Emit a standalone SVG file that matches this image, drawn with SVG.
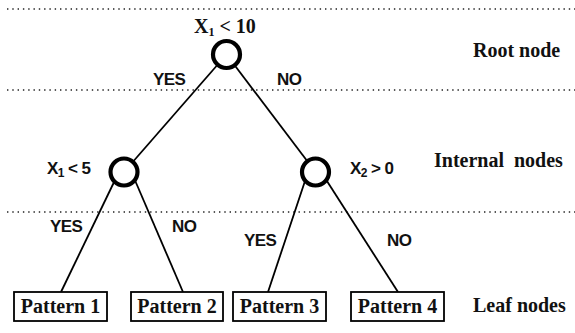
<svg xmlns="http://www.w3.org/2000/svg" width="575" height="333" viewBox="0 0 575 333">
<style>
.dot{stroke:#222;stroke-width:1.3;stroke-dasharray:1.4 3.9;fill:none}
.edge{stroke:#000;stroke-width:1.8;fill:none}
.node{fill:#fff;stroke:#000;stroke-width:4.2}
.box{fill:#fff;stroke:#000;stroke-width:1.8}
.serif{font-family:"Liberation Serif","Times New Roman",serif;font-weight:bold;font-size:20px;fill:#111}
.sans{font-family:"Liberation Sans",Arial,sans-serif;font-weight:bold;font-size:17px;letter-spacing:-0.6px;fill:#111}
.sub{font-size:12px}
</style>
<rect width="575" height="333" fill="#fff"/>
<g id="levels">
<line class="dot" x1="7" y1="9" x2="575" y2="9"/>
<line class="dot" x1="7" y1="90" x2="575" y2="90"/>
<line class="dot" x1="7" y1="212" x2="575" y2="212"/>
</g>
<g id="connectors">
<line class="edge" x1="226.5" y1="54.5" x2="124" y2="172"/>
<line class="edge" x1="226.5" y1="54.5" x2="315.5" y2="172"/>
<line class="edge" x1="116" y1="178" x2="61" y2="292"/>
<line class="edge" x1="134" y1="178" x2="183" y2="292"/>
<line class="edge" x1="306" y1="178" x2="268" y2="292"/>
<line class="edge" x1="325" y1="178" x2="398" y2="292"/>
<text class="sans" x="153" y="85">YES</text>
<text class="sans" x="277" y="85">NO</text>
<text class="sans" x="50" y="232">YES</text>
<text class="sans" x="172" y="232">NO</text>
<text class="sans" x="244" y="246">YES</text>
<text class="sans" x="387" y="246">NO</text>
</g>
<g id="root">
<circle class="node" cx="226.5" cy="54.5" r="13.5"/>
<text class="serif" x="194" y="33">X<tspan class="sub" dy="3">1</tspan><tspan dy="-3"> &lt; 10</tspan></text>
</g>
<g id="internal-left">
<circle class="node" cx="124" cy="172" r="13.5"/>
<text class="sans" x="47" y="174" letter-spacing="0">X<tspan class="sub" dy="3">1</tspan><tspan dy="-3"> &lt; 5</tspan></text>
</g>
<g id="internal-right">
<circle class="node" cx="315.5" cy="172" r="13.5"/>
<text class="sans" x="350" y="174" letter-spacing="0">X<tspan class="sub" dy="3">2</tspan><tspan dy="-3"> &gt; 0</tspan></text>
</g>
<g id="leaf1">
<rect class="box" x="14" y="292" width="93" height="29"/>
<text class="serif" x="60.5" y="313" text-anchor="middle">Pattern 1</text>
</g>
<g id="leaf2">
<rect class="box" x="131" y="292" width="92" height="29"/>
<text class="serif" x="177" y="313" text-anchor="middle">Pattern 2</text>
</g>
<g id="leaf3">
<rect class="box" x="233" y="292" width="93" height="29"/>
<text class="serif" x="279.5" y="313" text-anchor="middle">Pattern 3</text>
</g>
<g id="leaf4">
<rect class="box" x="351" y="292" width="93" height="29"/>
<text class="serif" x="397.5" y="313" text-anchor="middle">Pattern 4</text>
</g>
<g id="level-labels">
<text class="serif" x="473" y="57">Root node</text>
<text class="serif" x="434" y="167" xml:space="preserve">Internal  nodes</text>
<text class="serif" x="473" y="312">Leaf nodes</text>
</g>
</svg>
